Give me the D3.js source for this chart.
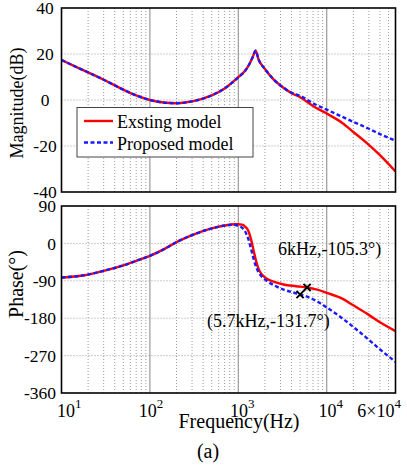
<!DOCTYPE html>
<html>
<head>
<meta charset="utf-8">
<script src="https://cdn.jsdelivr.net/npm/d3@7"></script>
<style>
  html, body { margin: 0; padding: 0; background: #fff; }
</style>
</head>
<body>
<div id="chart"></div>
<script>
// Bode plot data
var freqMag = [10, 15, 20, 30, 50, 70, 100, 150, 200, 300, 500, 700, 1000, 1200, 1350, 1450, 1570, 1700, 2000, 2500, 3000, 4000, 5000, 7000, 10000, 15000, 20000, 30000, 40000, 60000];
var magExisting = [17.4, 14.2, 12, 8.8, 4.5, 2, 0, -1.2, -1.4, -0.6, 2, 5, 9.9, 12.8, 16, 18.5, 21.4, 17.5, 13.5, 9, 6.3, 3, 1.2, -2.6, -5.9, -10, -13.9, -19.5, -24, -31.1];
var magProposed = [17.4, 14.2, 12, 8.8, 4.5, 2, 0, -1.2, -1.4, -0.6, 2, 5, 9.9, 12.8, 16, 18.5, 21.4, 17.5, 13.5, 9, 6.3, 3.2, 1.8, -1.4, -4.2, -7.3, -9.5, -12.5, -14.8, -17.7];

var freqPh = [10, 15, 20, 30, 50, 70, 100, 150, 200, 300, 500, 700, 900, 1000, 1100, 1200, 1300, 1400, 1500, 1600, 1700, 1850, 2100, 2500, 3250, 4500, 6000, 8000, 10000, 15000, 20000, 30000, 40000, 60000];
var phExisting = [-82, -79, -75, -66, -53, -42, -30, -12, 3, 20, 36, 43, 46, 46, 45, 40, 30, 8, -20, -45, -62, -75, -85, -92, -99, -103, -106, -112, -119, -133, -149, -172, -190, -211];
var phProposed = [-82, -79, -75, -66, -53, -42, -30, -12, 3, 20, 36, 43, 45, 42, 38, 28, 10, -15, -40, -58, -70, -80, -90, -100, -111, -120, -128, -141, -154, -180, -201, -232, -255, -285];

var markerFreq = [6000, 5000];
var markerPhase = [-106, -123];

var magTicks = [40, 20, 0, -20, -40];
var phTicks = [90, 0, -90, -180, -270, -360];
var decades = [10, 100, 1000, 10000];
var seriesNames = ['Exsting model', 'Proposed model'];

var width = 407, height = 474;
var svg = d3.select('#chart').append('svg')
  .attr('width', width)
  .attr('height', height)
  .style('display', 'block')
  .attr('font-family', "'Liberation Serif', 'Times New Roman', Times, serif");

var x = d3.scaleLog().domain([10, 60000]).range([61.5, 395.5]);
var yMag = d3.scaleLinear().domain([-40, 40]).range([192, 8]);
var yPh = d3.scaleLinear().domain([-360, 90]).range([393, 206]);

// minor frequencies for the dotted grid
var minors = [];
decades.forEach(function (d) {
  for (var k = 2; k <= 9; k++) {
    if (d * k < 60000) minors.push(d * k);
  }
});

function panel(y, ticks, clipId) {
  var g = svg.append('g');
  var y0 = y.range()[0], y1 = y.range()[1];
  var x0 = x.range()[0], x1 = x.range()[1];

  g.append('clipPath').attr('id', clipId)
    .append('rect')
    .attr('x', x0).attr('y', y1)
    .attr('width', x1 - x0).attr('height', y0 - y1);

  g.selectAll('.minor')
    .data(minors)
    .enter().append('line')
    .attr('x1', function (d) { return x(d); })
    .attr('x2', function (d) { return x(d); })
    .attr('y1', y1).attr('y2', y0)
    .attr('stroke', '#9a9a9a')
    .attr('stroke-width', 1)
    .attr('stroke-dasharray', '1,2');

  g.selectAll('.hgrid')
    .data(ticks.slice(1, -1))
    .enter().append('line')
    .attr('x1', x0).attr('x2', x1)
    .attr('y1', function (d) { return y(d); })
    .attr('y2', function (d) { return y(d); })
    .attr('stroke', '#9a9a9a')
    .attr('stroke-width', 1)
    .attr('stroke-dasharray', '1,2');

  g.selectAll('.major')
    .data(decades.slice(1))
    .enter().append('line')
    .attr('x1', function (d) { return x(d); })
    .attr('x2', function (d) { return x(d); })
    .attr('y1', y1).attr('y2', y0)
    .attr('stroke', '#9a9a9a')
    .attr('stroke-width', 1.2);

  return g;
}

function frame(y) {
  svg.append('rect')
    .attr('x', x.range()[0]).attr('y', y.range()[1])
    .attr('width', x.range()[1] - x.range()[0])
    .attr('height', y.range()[0] - y.range()[1])
    .attr('fill', 'none')
    .attr('stroke', '#000')
    .attr('stroke-width', 1.6);
}

function curve(g, freqs, vals, y, clipId, dashed) {
  var line = d3.line()
    .x(function (d, i) { return x(freqs[i]); })
    .y(function (d) { return y(d); })
    .curve(d3.curveMonotoneX);
  g.append('path')
    .datum(vals)
    .attr('clip-path', 'url(#' + clipId + ')')
    .attr('d', line)
    .attr('fill', 'none')
    .attr('stroke', dashed ? '#1a1aff' : '#ff0000')
    .attr('stroke-width', 2.4)
    .attr('stroke-dasharray', dashed ? '4,2.5' : null);
}

// Magnitude panel
var gm = panel(yMag, magTicks, 'clipMag');
curve(gm, freqMag, magExisting, yMag, 'clipMag', false);
curve(gm, freqMag, magProposed, yMag, 'clipMag', true);
frame(yMag);

svg.selectAll('.magLabel')
  .data(magTicks)
  .enter().append('text')
  .attr('x', 45)
  .attr('y', function (d) { return yMag(d); })
  .attr('dy', '0.35em')
  .attr('text-anchor', 'middle')
  .attr('font-size', 17.5)
  .text(function (d) { return d; });

// Phase panel
var gp = panel(yPh, phTicks, 'clipPh');
curve(gp, freqPh, phExisting, yPh, 'clipPh', false);
curve(gp, freqPh, phProposed, yPh, 'clipPh', true);
frame(yPh);

svg.selectAll('.phLabel')
  .data(phTicks)
  .enter().append('text')
  .attr('x', 56)
  .attr('y', function (d) { return yPh(d); })
  .attr('dy', '0.35em')
  .attr('text-anchor', 'end')
  .attr('font-size', 17.5)
  .text(function (d) { return d; });

// markers
markerFreq.forEach(function (f, i) {
  var cx = x(f), cy = yPh(markerPhase[i]), s = 3.6;
  svg.append('path')
    .attr('d', 'M' + (cx - s) + ',' + (cy - s) + 'L' + (cx + s) + ',' + (cy + s) +
               'M' + (cx - s) + ',' + (cy + s) + 'L' + (cx + s) + ',' + (cy - s))
    .attr('stroke', '#000')
    .attr('stroke-width', 2);
});

svg.append('text')
  .attr('x', 278).attr('y', 255)
  .attr('font-size', 18)
  .text('6kHz,-105.3°)');
svg.append('text')
  .attr('x', 207).attr('y', 327)
  .attr('font-size', 18)
  .text('(5.7kHz,-131.7°)');

// x tick labels
var xLabels = [
  { v: 10, base: '10', exp: '1', anchor: 'start', dx: -4.5 },
  { v: 100, base: '10', exp: '2', anchor: 'middle', dx: 1 },
  { v: 1000, base: '10', exp: '3', anchor: 'middle', dx: 4 },
  { v: 10000, base: '10', exp: '4', anchor: 'middle', dx: 4 },
  { v: 60000, base: '6×10', exp: '4', anchor: 'end', dx: 5.5 }
];
xLabels.forEach(function (d) {
  var t = svg.append('text')
    .attr('x', x(d.v) + d.dx)
    .attr('y', 417)
    .attr('text-anchor', d.anchor)
    .attr('font-size', 18);
  t.append('tspan').text(d.base);
  t.append('tspan').attr('dy', -9).attr('font-size', 13).text(d.exp);
});

// axis titles
svg.append('text')
  .attr('transform', 'translate(23,103) rotate(-90)')
  .attr('text-anchor', 'middle')
  .attr('font-size', 18)
  .text('Magnitude(dB)');
svg.append('text')
  .attr('transform', 'translate(23,284) rotate(-90)')
  .attr('text-anchor', 'middle')
  .attr('font-size', 20)
  .text('Phase(°)');
svg.append('text')
  .attr('x', 239).attr('y', 428)
  .attr('text-anchor', 'middle')
  .attr('font-size', 20)
  .text('Frequency(Hz)');
svg.append('text')
  .attr('x', 208).attr('y', 458)
  .attr('text-anchor', 'middle')
  .attr('font-size', 20)
  .text('(a)');

// legend
var legend = svg.append('g').attr('transform', 'translate(77,107.5)');
legend.append('rect')
  .attr('width', 176).attr('height', 49.5)
  .attr('fill', '#fff')
  .attr('stroke', '#444')
  .attr('stroke-width', 1);
seriesNames.forEach(function (name, i) {
  var ly = 13.5 + i * 21.5;
  legend.append('line')
    .attr('x1', 7).attr('x2', 36)
    .attr('y1', ly).attr('y2', ly)
    .attr('stroke', i ? '#1a1aff' : '#ff0000')
    .attr('stroke-width', 2.4)
    .attr('stroke-dasharray', i ? '4,2.5' : null);
  legend.append('text')
    .attr('x', 40).attr('y', ly + 7)
    .attr('font-size', 18)
    .text(name);
});
</script>
</body>
</html>
